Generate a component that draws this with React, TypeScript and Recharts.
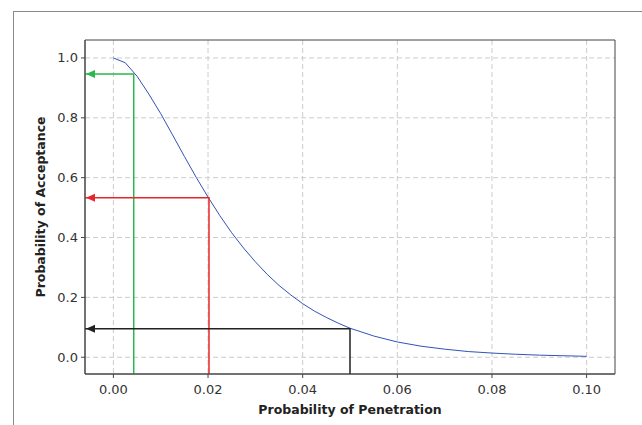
import {
  LineChart,
  Line,
  XAxis,
  YAxis,
  CartesianGrid,
  ReferenceArea,
} from "recharts";

// OC curve
const penetration = [
  0, 0.0025, 0.005, 0.0075, 0.01, 0.0125, 0.015, 0.0175, 0.02, 0.0225, 0.025,
  0.0275, 0.03, 0.0325, 0.035, 0.0375, 0.04, 0.0425, 0.045, 0.0475, 0.05,
  0.055, 0.06, 0.065, 0.07, 0.075, 0.08, 0.085, 0.09, 0.095, 0.1,
];
const acceptance = [
  1.0, 0.984, 0.939, 0.879, 0.814, 0.743, 0.671, 0.601, 0.535, 0.473, 0.416,
  0.365, 0.319, 0.277, 0.24, 0.208, 0.179, 0.154, 0.133, 0.114, 0.097, 0.071,
  0.051, 0.037, 0.027, 0.019, 0.014, 0.01, 0.007, 0.005, 0.003,
];

const xTicks = [0, 0.02, 0.04, 0.06, 0.08, 0.1];
const yTicks = [0, 0.2, 0.4, 0.6, 0.8, 1.0];
const xDomain: [number, number] = [-0.006, 0.106];
const yDomain: [number, number] = [-0.056, 1.06];

// reading points marked with arrows: [p, Pa, colour]
const markers: Array<[number, number, string]> = [
  [0.0043, 0.946, "#2db84d"],
  [0.0202, 0.533, "#e8262a"],
  [0.05, 0.095, "#222222"],
];

const curve = penetration.map((p, i) => ({ x: p, y: acceptance[i] }));

const arrowData = (p: number, pa: number) => [
  { x: xDomain[0], y: pa },
  { x: p, y: pa },
  { x: p, y: yDomain[0] },
];

function ArrowHead(color: string) {
  return (props: any) => {
    const { cx, cy, index } = props;
    if (index !== 0) return <g key={`a-${index}`} />;
    return (
      <path
        key={`a-${index}`}
        d={`M${cx + 1},${cy} L${cx + 10},${cy - 4} L${cx + 10},${cy + 4} Z`}
        fill={color}
        stroke="none"
      />
    );
  };
}

const FONT = "DejaVu Sans";

function XTick(props: any) {
  const { x, y, payload } = props;
  return (
    <text
      x={x}
      y={y + 13}
      textAnchor="middle"
      fontSize={13}
      fontFamily={FONT}
      fill="#333"
    >
      {Number(payload.value).toFixed(2)}
    </text>
  );
}

function YTick(props: any) {
  const { x, y, payload } = props;
  return (
    <text
      x={x}
      y={y + 4.5}
      textAnchor="end"
      fontSize={13}
      fontFamily={FONT}
      fill="#333"
    >
      {Number(payload.value).toFixed(1)}
    </text>
  );
}

const labelStyle = {
  fontSize: 12.5,
  fontWeight: "bold",
  fill: "#222",
  fontFamily: FONT,
};

export default function App() {
  return (
    <div
      style={{
        position: "fixed",
        left: 0,
        top: 0,
        width: 642,
        height: 425,
        overflow: "hidden",
        background: "#fff",
      }}
    >
      <div
        style={{
          position: "absolute",
          left: 13,
          top: 11,
          width: 629,
          height: 414,
          borderLeft: "1px solid #8a8a8a",
          borderTop: "1px solid #8a8a8a",
          boxSizing: "border-box",
        }}
      />
      <div style={{ position: "absolute", left: 0, top: 0 }}>
        <LineChart
          width={642}
          height={425}
          margin={{ top: 40, right: 27, bottom: 0, left: 0 }}
        >
          <CartesianGrid
            stroke="#cccccc"
            strokeDasharray="5 3"
            horizontalValues={yTicks}
            verticalValues={xTicks}
          />
          <XAxis
            type="number"
            dataKey="x"
            domain={xDomain}
            ticks={xTicks}
            allowDataOverflow
            height={51}
            tickSize={4}
            tickMargin={3}
            tick={<XTick />}
            stroke="#444"
            label={{
              value: "Probability of Penetration",
              position: "insideBottom",
              offset: 11,
              style: labelStyle,
            }}
          />
          <YAxis
            type="number"
            dataKey="y"
            domain={yDomain}
            ticks={yTicks}
            allowDataOverflow
            width={85}
            tickSize={4}
            tickMargin={3}
            tick={<YTick />}
            stroke="#444"
            label={{
              value: "Probability of Acceptance",
              angle: -90,
              position: "insideLeft",
              offset: 41,
              style: { ...labelStyle, textAnchor: "middle" },
            }}
          />
          <ReferenceArea
            x1={xDomain[0]}
            x2={xDomain[1]}
            y1={yDomain[0]}
            y2={yDomain[1]}
            fill="none"
            stroke="#444"
            strokeWidth={1}
          />
          <Line
            data={curve}
            dataKey="y"
            type="linear"
            stroke="#3352b8"
            strokeWidth={1}
            dot={false}
            isAnimationActive={false}
          />
          {markers.map(([p, pa, color], i) => (
            <Line
              key={i}
              data={arrowData(p, pa)}
              dataKey="y"
              type="linear"
              stroke={color}
              strokeWidth={1.5}
              dot={ArrowHead(color)}
              activeDot={false}
              isAnimationActive={false}
            />
          ))}
        </LineChart>
      </div>
    </div>
  );
}
